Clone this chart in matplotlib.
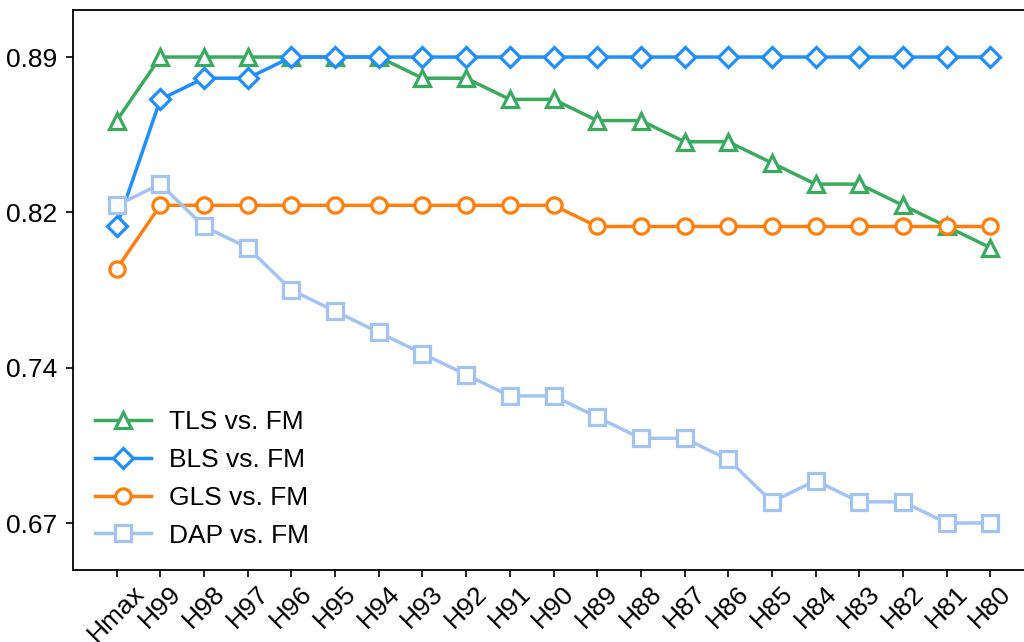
import numpy as np
import matplotlib
matplotlib.use("Agg")
import matplotlib.pyplot as plt

plt.rcParams['font.family'] = ['Liberation Sans', 'DejaVu Sans']

categories = ["Hmax"] + [f"H{i}" for i in range(99, 79, -1)]

tls = [0.86, 0.89, 0.89, 0.89, 0.89, 0.89, 0.89, 0.88, 0.88, 0.87, 0.87,
       0.86, 0.86, 0.85, 0.85, 0.84, 0.83, 0.83, 0.82, 0.81, 0.80]
bls = [0.81, 0.87, 0.88, 0.88, 0.89, 0.89, 0.89, 0.89, 0.89, 0.89, 0.89,
       0.89, 0.89, 0.89, 0.89, 0.89, 0.89, 0.89, 0.89, 0.89, 0.89]
gls = [0.79, 0.82, 0.82, 0.82, 0.82, 0.82, 0.82, 0.82, 0.82, 0.82, 0.82,
       0.81, 0.81, 0.81, 0.81, 0.81, 0.81, 0.81, 0.81, 0.81, 0.81]
dap = [0.82, 0.83, 0.81, 0.80, 0.78, 0.77, 0.76, 0.75, 0.74, 0.73, 0.73,
       0.72, 0.71, 0.71, 0.70, 0.68, 0.69, 0.68, 0.68, 0.67, 0.67]

series = [
    ("TLS vs. FM", tls, "#3aaa5f", "^"),
    ("BLS vs. FM", bls, "#1e8fff", "D"),
    ("GLS vs. FM", gls, "#ff7f0e", "o"),
    ("DAP vs. FM", dap, "#a3c4f3", "s"),
]

fig = plt.figure(figsize=(10.24, 6.42), dpi=100)
ax = fig.add_axes([0.0713, 0.1121, 0.9385, 0.8723])

x = np.arange(len(categories))
for label, vals, color, marker in series:
    ms = 10 if marker == "D" else 11
    ax.plot(x, vals, color=color, lw=2.5, marker=marker, markersize=ms,
            markerfacecolor="white", markeredgecolor=color,
            markeredgewidth=2.3, label=label)

ax.set_xlim(-1, len(categories))
ax.set_ylim(0.6478, 0.9122)
ax.set_xticks(x)
ax.set_xticklabels(categories, rotation=45, ha="center", va="top",
                   rotation_mode="default")
yt = np.linspace(0.67, 0.89, 4)
ax.set_yticks(yt)
ax.set_yticklabels([f"{v:.2f}" for v in yt])
ax.tick_params(axis="both", labelsize=19, length=5, width=1.2)
ax.tick_params(axis="y", pad=6)
ax.tick_params(axis="x", pad=3)
for s in ax.spines.values():
    s.set_linewidth(1.3)

ax.legend(loc="lower left", frameon=False, fontsize=19,
          handlelength=2.1, handletextpad=0.7, borderaxespad=0.45,
          labelspacing=0.52)

fig.savefig("out.png", dpi=100)
